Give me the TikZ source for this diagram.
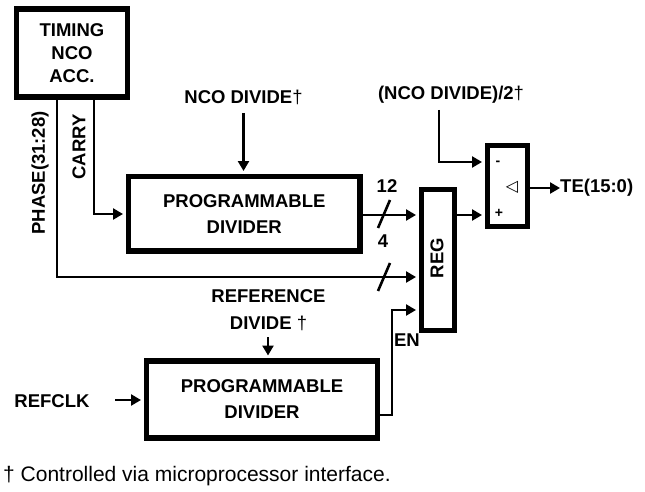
\documentclass[tikz,border=0pt]{standalone}
\usepackage{fontspec}
\setmainfont{Liberation Sans}
\newfontfamily\symfont{DejaVu Sans}
\usetikzlibrary{arrows.meta,calc}
\newcommand\lblfont{\fontsize{18.5}{23}\selectfont\bfseries}
\newcommand\dgr{{\mdseries †}}
\begin{document}
\begin{tikzpicture}[x=1pt,y=-1pt,
  box/.style={draw,line width=5.5pt,inner sep=0pt,align=center,font=\lblfont},
  lbl/.style={inner sep=0pt,font=\lblfont},
  conn/.style={line width=2.6pt,-{Triangle[length=10pt,width=11pt]}},
  tobox/.style={shorten >=2.75pt},
  slash/.style={line width=2.6pt}]
\useasboundingbox (0,0) rectangle (645,492);

% boxes
\node[box,minimum width=111pt,minimum height=88pt] (timing) at (72,53) {TIMING\\NCO\\ACC.};
\node[box,minimum width=231.5pt,minimum height=74.5pt,font=\fontsize{18.5}{26}\selectfont\bfseries] (pd1) at (244.25,213.75) {PROGRAMMABLE\\DIVIDER};
\node[box,minimum width=33pt,minimum height=141pt] (reg) at (438,260) {};
\node[lbl,rotate=90] (regtxt) at (437,258) {REG};
\node[box,minimum width=40pt,minimum height=81pt] (cmp) at (507.5,186) {};
\node[inner sep=0pt,font=\fontsize{14}{14}\selectfont\bfseries] (minus) at (498,163) {-};
\node[inner sep=0pt,font=\fontsize{14}{14}\selectfont\bfseries] (plus) at (499,213) {+};
\node[inner sep=0pt,font=\fontsize{16}{16}\selectfont\symfont] (tri) at (512,187) {◁};
\node[box,minimum width=231pt,minimum height=77pt,font=\fontsize{18.5}{26}\selectfont\bfseries] (pd2) at (262,399.5) {PROGRAMMABLE\\DIVIDER};

% labels
\node[lbl] (ncodiv) at (243.5,97) {NCO DIVIDE\dgr};
\node[lbl] (ncodiv2) at (451,95) {(NCO DIVIDE)/2\dgr};
\node[lbl,anchor=west] (te) at (560,188) {TE(15:0)};
\node[lbl,align=center,font=\fontsize{18.5}{27}\selectfont\bfseries] (refdiv) at (268.5,310) {REFERENCE\\DIVIDE \dgr};
\node[lbl] (refclk) at (52,401) {REFCLK};
\node[lbl] (en) at (407,340) {EN};
\node[lbl] (n12) at (387,186) {12};
\node[lbl] (n4) at (383,241) {4};
\node[lbl,rotate=90] (carry) at (79,147) {CARRY};
\node[lbl,rotate=90] (phase) at (40,173) {PHASE(31:28)};
\node[inner sep=0pt,anchor=west,font=\fontsize{21}{24}\selectfont] (foot) at (3,476) {† Controlled via microprocessor interface.};

% helper coordinates
\coordinate (ph) at (57,277);
\coordinate (ca) at (94,214);
\coordinate (a1) at (243.5,113);
\coordinate (plusy) at (0,215);
\coordinate (m0) at (439,110);
\coordinate (m1) at (439,162);
\coordinate (r0) at (268,337);
\coordinate (rc) at (115,400);
\coordinate (en1) at (392,415);
\coordinate (en2) at (392,310);

% connectors
\draw[conn,tobox] (timing.south -| ph) |- (reg.west |- ph);
\draw[conn,tobox] (timing.south -| ca) |- (pd1.west |- ca);
\draw[conn,tobox] (a1) -- (a1 |- pd1.north);
\draw[conn,tobox] (pd1.east |- plusy) -- (reg.west |- plusy);
\draw[conn,tobox] (reg.east |- plusy) -- (cmp.west |- plusy);
\draw[conn,tobox] (m0) -- (m1) -- (cmp.west |- m1);
\draw[conn] (cmp.east |- te.west) -- (te.west);
\draw[conn,tobox] (r0) -- (r0 |- pd2.north);
\draw[conn,tobox] (rc) -- (pd2.west |- rc);
\draw[conn,tobox] (pd2.east |- en1) -- (en1) -- (en2) -- (reg.west |- en2);

% bus slashes
\draw[slash] (378,228) -- (390,200);
\draw[slash] (378,291) -- (390,263);
\end{tikzpicture}
\end{document}
